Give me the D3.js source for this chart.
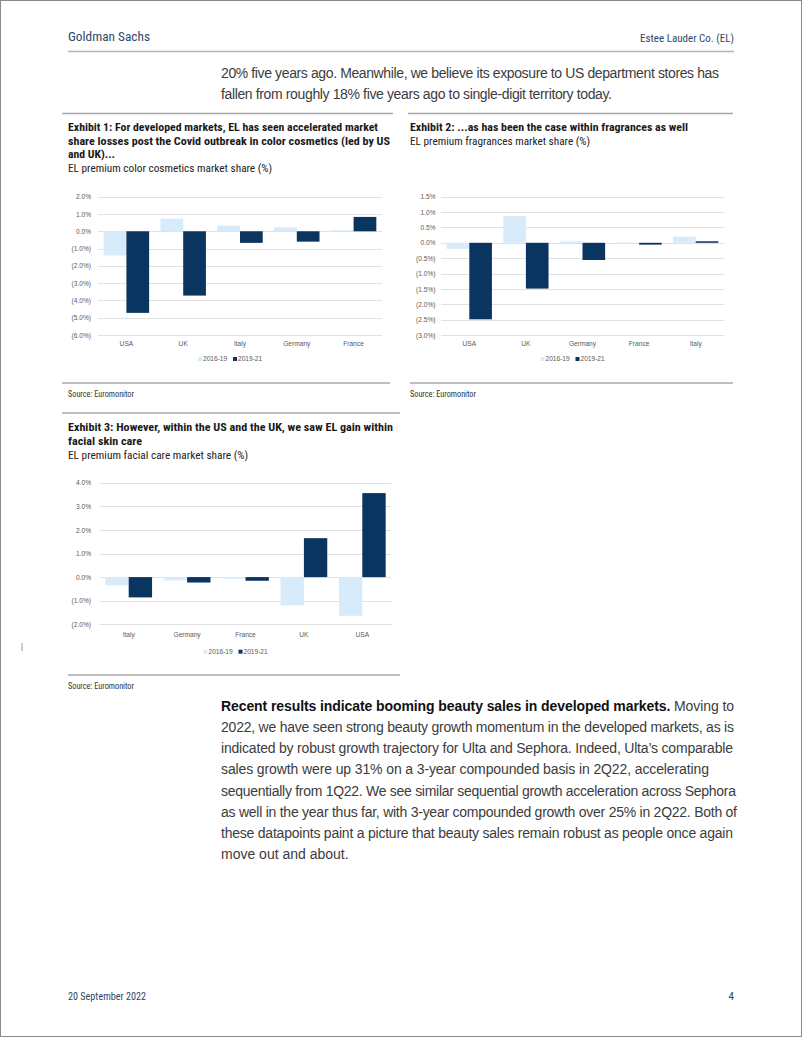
<!DOCTYPE html>
<html><head><meta charset="utf-8">
<script src="https://cdn.jsdelivr.net/npm/d3@7"></script>
<style>body{margin:0;background:#fff}svg{display:block}</style>
</head><body><div id="page"></div>
<script>
// ---------- DATA ----------
const seriesNames = ["2016-19", "2019-21"];

const cosmeticsCategories = ["USA", "UK", "Italy", "Germany", "France"];
const cosmetics2016_19 = [-1.40, 0.73, 0.33, 0.23, 0.06];
const cosmetics2019_21 = [-4.72, -3.72, -0.67, -0.60, 0.83];
const cosmeticsTicks = [2, 1, 0, -1, -2, -3, -4, -5, -6];

const fragranceCategories = ["USA", "UK", "Germany", "France", "Italy"];
const fragrance2016_19 = [-0.20, 0.87, 0.05, 0.01, 0.20];
const fragrance2019_21 = [-2.49, -1.49, -0.56, -0.06, 0.05];
const fragranceTicks = [1.5, 1.0, 0.5, 0, -0.5, -1.0, -1.5, -2.0, -2.5, -3.0];

const facialCategories = ["Italy", "Germany", "France", "UK", "USA"];
const facial2016_19 = [-0.35, -0.14, -0.07, -1.20, -1.64];
const facial2019_21 = [-0.86, -0.23, -0.155, 1.65, 3.56];
const facialTicks = [4, 3, 2, 1, 0, -1, -2];

const introLines = [
  "20% five years ago. Meanwhile, we believe its exposure to US department stores has",
  "fallen from roughly 18% five years ago to single-digit territory today."
];
const paraLead = "Recent results indicate booming beauty sales in developed markets.";
const paraLines = [
  " Moving to",
  "2022, we have seen strong beauty growth momentum in the developed markets, as is",
  "indicated by robust growth trajectory for Ulta and Sephora. Indeed, Ulta\u2019s comparable",
  "sales growth were up 31% on a 3-year compounded basis in 2Q22, accelerating",
  "sequentially from 1Q22. We see similar sequential growth acceleration across Sephora",
  "as well in the year thus far, with 3-year compounded growth over 25% in 2Q22. Both of",
  "these datapoints paint a picture that beauty sales remain robust as people once again",
  "move out and about."
];

// ---------- STYLE ----------
const W = 802, H = 1037;
const LIGHT = "#d8ebfa", DARK = "#0b3561";
const NAVY_TEXT = "#2d4868";
const COND = "'Liberation Sans Narrow','Arial Narrow','Roboto Condensed','Liberation Sans',sans-serif";
const BODY = "'Liberation Sans',Arial,sans-serif";
const TICKF = "'Liberation Sans',Arial,sans-serif";

const svg = d3.select("#page").append("svg").attr("width", W).attr("height", H);

// page border
svg.append("rect").attr("x", 0.5).attr("y", 0.5).attr("width", W - 1).attr("height", H - 1)
  .attr("fill", "#fff").attr("stroke", "#8a8a8a").attr("stroke-width", 1);

function txt(x, y, s, o = {}) {
  const t = svg.append("text").attr("x", x).attr("y", y)
    .attr("font-family", o.family || BODY)
    .attr("font-size", o.size || 12)
    .attr("font-weight", o.weight || "normal")
    .attr("fill", o.fill || "#222")
    .attr("text-anchor", o.anchor || "start")
    .text(s);
  if (o.len) t.attr("textLength", o.len).attr("lengthAdjust", o.adjust || "spacingAndGlyphs");
  return t;
}
function rule(x1, x2, y, color = "#a8a8a8", w = 1.5) {
  svg.append("line").attr("x1", x1).attr("x2", x2).attr("y1", y).attr("y2", y)
    .attr("stroke", color).attr("stroke-width", w);
}

// ---------- HEADER ----------
txt(68, 40.5, "Goldman Sachs", {family: COND, size: 13.5, fill: NAVY_TEXT, len: 82});
txt(734, 42, "Estee Lauder Co. (EL)", {family: COND, size: 10.5, fill: NAVY_TEXT, anchor: "end", len: 94});
rule(68, 734, 51.5, "#b5b5b5", 1.5);

introLines.forEach((l, i) => {
  txt(221, 78 + i * 21, l, {size: 14, fill: "#3c3c3c", len: i === 0 ? 498 : 391, adjust: "spacing"});
});

// ---------- EXHIBIT TITLES ----------
rule(62, 393, 113.5);
txt(68, 130.5, "Exhibit 1: For developed markets, EL has seen accelerated market", {family: COND, size: 11.5, weight: "bold", fill: "#1a1a1a", len: 310});
txt(68, 144.5, "share losses post the Covid outbreak in color cosmetics (led by US", {family: COND, size: 11.5, weight: "bold", fill: "#1a1a1a", len: 322});
txt(68, 157.5, "and UK)...", {family: COND, size: 11.5, weight: "bold", fill: "#1a1a1a", len: 47});
txt(68, 171.5, "EL premium color cosmetics market share (%)", {family: COND, size: 11.5, fill: "#222", len: 204});

rule(408, 733, 113.5);
txt(410, 130.5, "Exhibit 2: ...as has been the case within fragrances as well", {family: COND, size: 11.5, weight: "bold", fill: "#1a1a1a", len: 278});
txt(410, 144.5, "EL premium fragrances market share (%)", {family: COND, size: 11.5, fill: "#222", len: 180});

rule(62, 390, 383);
txt(68, 396.5, "Source: Euromonitor", {family: COND, size: 9.5, fill: "#333", len: 66});
rule(410, 733, 383);
txt(410, 396.5, "Source: Euromonitor", {family: COND, size: 9.5, fill: "#333", len: 66});

rule(62, 400, 413);
txt(68, 430.5, "Exhibit 3: However, within the US and the UK, we saw EL gain within", {family: COND, size: 11.5, weight: "bold", fill: "#1a1a1a", len: 325});
txt(68, 444.5, "facial skin care", {family: COND, size: 11.5, weight: "bold", fill: "#1a1a1a", len: 74});
txt(68, 458.5, "EL premium facial care market share (%)", {family: COND, size: 11.5, fill: "#222", len: 180});

rule(68, 400, 675);
txt(68, 688.5, "Source: Euromonitor", {family: COND, size: 9.5, fill: "#333", len: 66});

// small margin mark
svg.append("line").attr("x1", 22).attr("x2", 22).attr("y1", 643).attr("y2", 651)
  .attr("stroke", "#9a9a9a").attr("stroke-width", 1);

// ---------- CHARTS ----------
function fmt(v) {
  const s = Math.abs(v).toFixed(1) + "%";
  return v < -1e-9 ? "(" + s + ")" : s;
}

function barChart(cfg) {
  const {cats, s1, s2, ticks, x0, x1, yTop, yBot, dom, labelRight, catY, legY} = cfg;
  const g = svg.append("g");
  const x = d3.scaleBand().domain(cats).range([x0, x1]).paddingInner(0).paddingOuter(0);
  const xs = d3.scaleBand().domain(seriesNames).range([x.bandwidth() * 0.1, x.bandwidth() * 0.9]).padding(0);
  const y = d3.scaleLinear().domain(dom).range([yBot, yTop]);

  // gridlines
  g.selectAll(".grid").data(ticks).enter().append("line")
    .attr("x1", x0).attr("x2", x1)
    .attr("y1", d => Math.round(y(d)) + 0.5).attr("y2", d => Math.round(y(d)) + 0.5)
    .attr("stroke", "#d9d9d9").attr("stroke-width", 0.8);

  // y tick labels via axis
  const yAxis = d3.axisLeft(y).tickValues(ticks).tickFormat(fmt).tickSize(0).tickPadding(0);
  const ag = g.append("g").attr("transform", `translate(${labelRight},0)`).call(yAxis);
  ag.select(".domain").remove();
  ag.selectAll("text").attr("font-family", TICKF).attr("font-size", 6.6).attr("fill", "#595959");

  // bars
  const rows = cats.map((c, i) => ({c, vals: [s1[i], s2[i]]}));
  const colors = [LIGHT, DARK];
  rows.forEach(r => {
    r.vals.forEach((v, k) => {
      g.append("rect")
        .attr("x", x(r.c) + xs(seriesNames[k]))
        .attr("width", xs.bandwidth())
        .attr("y", y(Math.max(0, v)))
        .attr("height", Math.abs(y(v) - y(0)))
        .attr("fill", colors[k]);
    });
  });

  // category labels via axis
  const xAxis = d3.axisBottom(x).tickSize(0).tickPadding(0);
  const xg = g.append("g").attr("transform", `translate(0,${catY})`).call(xAxis);
  xg.select(".domain").remove();
  xg.selectAll("text").attr("font-family", TICKF).attr("font-size", 6.6).attr("fill", "#595959").attr("dy", "0");

  // legend
  const cx = (x0 + x1) / 2 - 42;
  seriesNames.forEach((n, k) => {
    const lx = cx + k * 35;
    g.append("rect").attr("x", lx).attr("y", legY - 2).attr("width", 4).attr("height", 4).attr("fill", colors[k]);
    g.append("text").attr("x", lx + 5).attr("y", legY + 2.3).text(n)
      .attr("font-family", TICKF).attr("font-size", 6.6).attr("fill", "#595959");
  });
}

barChart({cats: cosmeticsCategories, s1: cosmetics2016_19, s2: cosmetics2019_21, ticks: cosmeticsTicks,
  x0: 98, x1: 382, yTop: 196.7, yBot: 335, dom: [-6, 2], labelRight: 91, catY: 346, legY: 359});
barChart({cats: fragranceCategories, s1: fragrance2016_19, s2: fragrance2019_21, ticks: fragranceTicks,
  x0: 441, x1: 724, yTop: 196.7, yBot: 335, dom: [-3, 1.5], labelRight: 435.5, catY: 346, legY: 359});
barChart({cats: facialCategories, s1: facial2016_19, s2: facial2019_21, ticks: facialTicks,
  x0: 99.5, x1: 391.5, yTop: 482.7, yBot: 624.3, dom: [-2, 4], labelRight: 91, catY: 636.5, legY: 651.7});

// ---------- PARAGRAPH ----------
const pLens = [null, 513, 512, 488, 515, 516, 512, null];
paraLines.forEach((l, i) => {
  const yb = 711 + i * 21.15;
  if (i === 0) {
    const t = svg.append("text").attr("x", 221).attr("y", yb).attr("font-family", BODY).attr("font-size", 14).attr("fill", "#3c3c3c");
    t.append("tspan").attr("font-weight", "bold").attr("fill", "#111").text(paraLead);
    t.append("tspan").text(l);
    t.attr("textLength", 513).attr("lengthAdjust", "spacing");
  } else {
    txt(221, yb, l, {size: 14, fill: "#3c3c3c", len: pLens[i], adjust: "spacing"});
  }
});

// ---------- FOOTER ----------
txt(68, 1000, "20 September 2022", {family: COND, size: 11, fill: NAVY_TEXT, len: 78});
txt(734, 1000, "4", {family: COND, size: 11, fill: NAVY_TEXT, anchor: "end"});
</script></body></html>
